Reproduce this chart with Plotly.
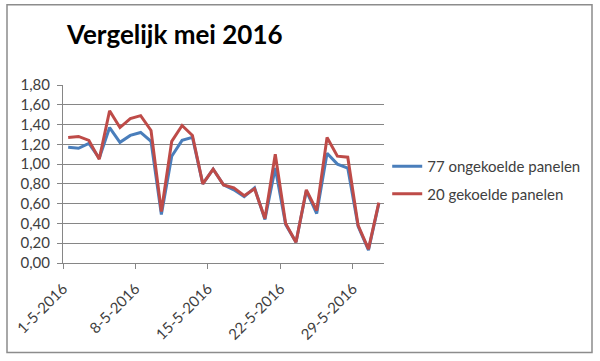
import plotly.graph_objects as go
import pandas as pd

dates = pd.date_range("2016-05-01", "2016-05-31", freq="D").strftime("%Y-%m-%d").tolist()
ongekoeld = [1.17, 1.16, 1.21, 1.06, 1.37, 1.22, 1.29, 1.32, 1.23, 0.49,
             1.08, 1.24, 1.27, 0.80, 0.95, 0.79, 0.74, 0.67, 0.76, 0.44,
             0.96, 0.39, 0.21, 0.73, 0.50, 1.11, 1.00, 0.96, 0.37, 0.13, 0.60]
gekoeld = [1.27, 1.28, 1.24, 1.05, 1.54, 1.37, 1.46, 1.49, 1.34, 0.52,
           1.23, 1.39, 1.29, 0.80, 0.95, 0.79, 0.76, 0.68, 0.75, 0.45,
           1.10, 0.40, 0.21, 0.74, 0.53, 1.27, 1.08, 1.07, 0.38, 0.14, 0.61]
tick_pos = ["2016-04-30 12:00", "2016-05-07 12:00", "2016-05-14 12:00",
            "2016-05-21 12:00", "2016-05-28 12:00"]
tick_text = ["1-5-2016", "8-5-2016", "15-5-2016", "22-5-2016", "29-5-2016"]
y_ticks = [0, 0.2, 0.4, 0.6, 0.8, 1.0, 1.2, 1.4, 1.6, 1.8]
y_text = ["0,00", "0,20", "0,40", "0,60", "0,80", "1,00", "1,20", "1,40", "1,60", "1,80"]

FONT = "Lato"
fig = go.Figure()
fig.add_trace(go.Scatter(x=dates, y=ongekoeld, mode="lines", name="77 ongekoelde panelen",
                         line=dict(color="#4a7ebb", width=3), legendgroup="a"))
fig.add_trace(go.Scatter(x=dates, y=gekoeld, mode="lines", name="20 gekoelde panelen",
                         line=dict(color="#be4b48", width=3), legendgroup="b"))

fig.update_layout(
    width=600, height=361,
    margin=dict(l=63, r=216, t=85, b=98, autoexpand=False),
    paper_bgcolor="white", plot_bgcolor="white",
    font=dict(family=FONT, size=15, color="#404040"),
    title=dict(text="<b>Vergelijk mei 2016</b>", x=67/600, xanchor="left",
               y=1 - 35/361, yanchor="middle",
               font=dict(family=FONT, size=26, color="black")),
    showlegend=True,
    legend=dict(x=1.01, xanchor="left", y=(262.7 - 150) / 177.7, yanchor="top",
                traceorder="grouped", tracegroupgap=5,
                font=dict(family=FONT, size=15, color="#404040"),
                bgcolor="rgba(0,0,0,0)"),
    xaxis=dict(type="date", range=["2016-04-30 12:00", "2016-05-31 12:00"],
               tickmode="array", tickvals=tick_pos, ticktext=tick_text,
               tickangle=-45, showgrid=False, showline=True, linecolor="#868686",
               linewidth=1, ticks="outside", ticklen=5, tickcolor="#868686",
               ticklabelstandoff=5, automargin=False,
               tickfont=dict(size=15, color="#404040")),
    yaxis=dict(range=[0, 1.8], tickmode="array", tickvals=y_ticks, ticktext=y_text,
               showgrid=True, gridcolor="#868686", gridwidth=1,
               showline=True, linecolor="#868686", linewidth=1,
               ticks="outside", ticklen=5, tickcolor="#868686", zeroline=False,
               ticklabelstandoff=4, automargin=False,
               tickfont=dict(size=15, color="#404040")),
)

fig.add_shape(type="rect", xref="paper", yref="paper",
              x0=(7 - 63) / 321, x1=(592 - 63) / 321,
              y0=(262.7 - 352) / 177.7, y1=(262.7 - 5) / 177.7,
              line=dict(color="#8c8c8c", width=1.5), fillcolor="rgba(0,0,0,0)",
              layer="below")

fig.write_html("out.html", config={"displayModeBar": False},
               post_script="document.body.style.margin='0';document.body.style.padding='0';")
